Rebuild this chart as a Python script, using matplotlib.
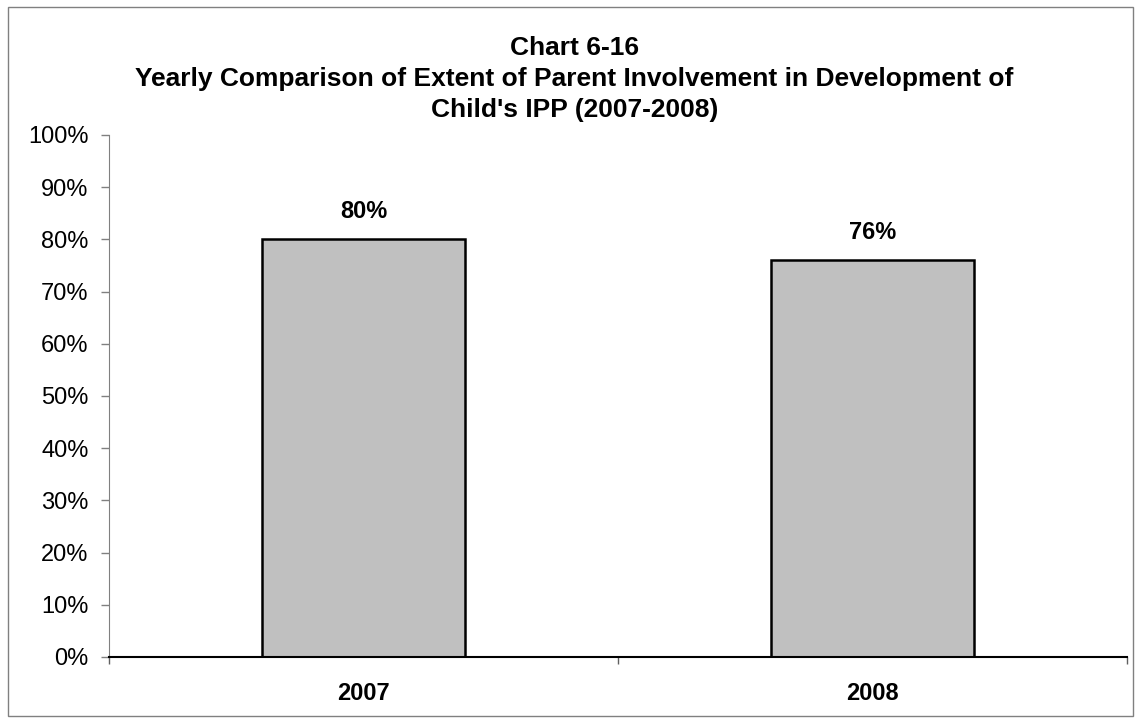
import matplotlib.pyplot as plt
from matplotlib.patches import Rectangle
from matplotlib.ticker import PercentFormatter

plt.rcParams['font.family'] = ['Liberation Sans', 'DejaVu Sans']

# data
years = ['2007', '2008']
percents = [80, 76]

fig = plt.figure(figsize=(11.4, 7.23), dpi=100)
ax = fig.add_axes([0.0956, 0.0913, 0.8930, 0.7220])

x = list(range(len(years)))
bars = ax.bar(x, percents, width=0.4, color='#c0c0c0', edgecolor='black', linewidth=1.8)

for xi, v in zip(x, percents):
    ax.annotate(f'{v}%', (xi, v), xytext=(0, 12), textcoords='offset points',
                ha='center', va='bottom', fontsize=17, fontweight='bold')

ax.set_xlim(-0.5, len(years) - 0.5)
ax.set_ylim(0, 100)
ax.set_yticks(range(0, 101, 10))
ax.yaxis.set_major_formatter(PercentFormatter(decimals=0))
ax.tick_params(axis='y', labelsize=17, length=5.8, width=1, color='#808080', pad=9)

# category boundary ticks on x, labels in between
ax.set_xticks([-0.5, 0.5, 1.5])
ax.set_xticklabels([])
ax.set_xticks(x, minor=True)
ax.set_xticklabels(years, minor=True, fontsize=17, fontweight='bold')
ax.tick_params(axis='x', which='major', length=5, width=1, color='#606060')
ax.tick_params(axis='x', which='minor', length=0, pad=18)

ax.spines['top'].set_visible(False)
ax.spines['right'].set_visible(False)
ax.spines['left'].set_color('#808080')
ax.spines['bottom'].set_color('black')
ax.spines['bottom'].set_linewidth(1.5)

fig.text(0.504, 0.891, "Chart 6-16\nYearly Comparison of Extent of Parent Involvement in Development of\nChild's IPP (2007-2008)",
         ha='center', va='center', fontsize=19, fontweight='bold', linespacing=1.38)

# outer chart border
fig.add_artist(Rectangle((8 / 1140, 7 / 723), 1125 / 1140, 709 / 723, transform=fig.transFigure,
                         fill=False, edgecolor='#808080', linewidth=1))

plt.savefig('out.png', dpi=100)
